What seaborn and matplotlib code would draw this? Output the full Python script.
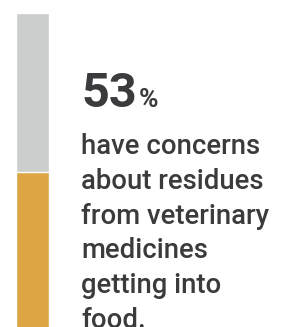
import matplotlib
matplotlib.use("Agg")
import matplotlib.pyplot as plt
import seaborn as sns
import pandas as pd

# data
category = ["share"]
total_pct = [100]
concern_pct = [53]
headline = "53"
body_lines = ["have concerns", "about residues", "from veterinary", "medicines", "getting into", "food."]

sns.set_theme(style="white")
plt.rcParams['font.family'] = ['Roboto', 'DejaVu Sans']

W, H = 284, 327
fig = plt.figure(figsize=(W / 100, H / 100), dpi=100)
ax = fig.add_axes([16 / W, 0, 33 / W, 1 - 13 / H])

df_total = pd.DataFrame({"c": category, "v": total_pct})
df_con = pd.DataFrame({"c": category, "v": concern_pct})
sns.barplot(data=df_total, x="c", y="v", color="#cccecd", width=1.0, ax=ax, saturation=1)
sns.barplot(data=df_con, x="c", y="v", color="#dea545", width=1.0, ax=ax, saturation=1)
ax.set_xlim(-0.5, 0.5)
ax.set_ylim(7.2, 100)
ax.axis("off")

col = "#3b3b3d"
def fy(py):
    return 1 - py / H

fig.text(81 / W, fy(107), headline, fontsize=35, fontweight="bold", color=col, va="baseline", ha="left")
fig.text(139 / W, fy(107), "%", fontsize=19, fontweight="bold", color=col, va="baseline", ha="left")

baselines = [154 + i * 34.8 for i in range(6)]
for i, line in enumerate(body_lines):
    fig.text(81 / W, fy(baselines[i]), line, fontsize=19.8, fontweight=500, color=col, va="baseline", ha="left")

fig.savefig("out.png", dpi=100)
